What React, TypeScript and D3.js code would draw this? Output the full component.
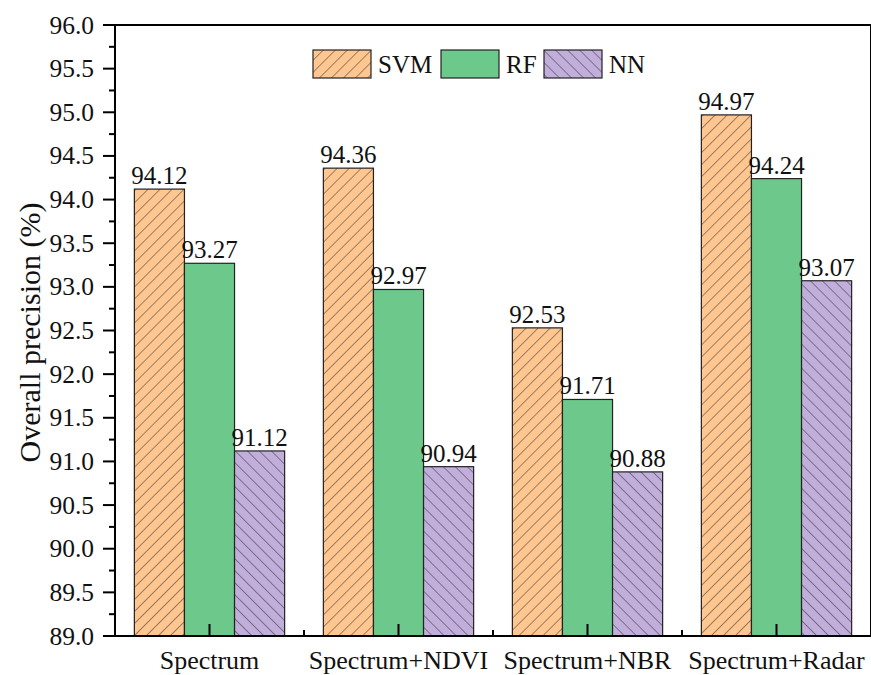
import React from "react";
import * as d3 from "d3";

const categories = ["Spectrum", "Spectrum+NDVI", "Spectrum+NBR", "Spectrum+Radar"];
const seriesNames = ["SVM", "RF", "NN"];
const svmValues = [94.12, 94.36, 92.53, 94.97];
const rfValues = [93.27, 92.97, 91.71, 94.24];
const nnValues = [91.12, 90.94, 90.88, 93.07];
const yTicks = [89.0, 89.5, 90.0, 90.5, 91.0, 91.5, 92.0, 92.5, 93.0, 93.5, 94.0, 94.5, 95.0, 95.5, 96.0];

const W = 871, H = 675;
const M = { left: 115, right: 871, top: 25, bottom: 636 };
const fills = ["#FFC690", "#6DC98B", "#C1AEDA"];
const patterns = ["url(#hatchF)", "#6DC98B", "url(#hatchB)"];
const FONT = "'Liberation Serif', 'Times New Roman', Times, serif";
const legendX = [313, 441, 544];

export default function App() {
  const series = [svmValues, rfValues, nnValues];
  const step = (M.right - M.left) / categories.length;
  const xc = d3.scaleBand<string>().domain(categories).range([M.left, M.right]).paddingInner(0).paddingOuter(0);
  const groupW = step * 0.795;
  const xs = d3.scaleBand<string>().domain(seriesNames).range([0, groupW]);
  const y = d3.scaleLinear().domain([89, 96]).range([M.bottom, M.top]);
  const minorY = d3.range(89.25, 96, 0.5);
  const ts = { fontFamily: FONT };

  return (
    <svg width={W} height={H} style={{ position: "absolute", left: 0, top: 0, fontFamily: FONT }}>
      <defs>
        <pattern id="hatchF" patternUnits="userSpaceOnUse" width="8.5" height="8.5" patternTransform="rotate(45)">
          <rect width="8.5" height="8.5" fill={fills[0]} />
          <line x1="0" y1="0" x2="0" y2="8.5" stroke="#333" strokeWidth="1" />
        </pattern>
        <pattern id="hatchB" patternUnits="userSpaceOnUse" width="8.5" height="8.5" patternTransform="rotate(-45)">
          <rect width="8.5" height="8.5" fill={fills[2]} />
          <line x1="0" y1="0" x2="0" y2="8.5" stroke="#333" strokeWidth="1" />
        </pattern>
      </defs>

      {categories.map((c, ci) => {
        const cx = (xc(c) as number) + step / 2;
        const gx = cx - groupW / 2;
        return (
          <g key={c}>
            {series.map((vals, si) => {
              const bx = gx + (xs(seriesNames[si]) as number);
              const bw = xs.bandwidth();
              const by = y(vals[ci]);
              return (
                <g key={si}>
                  <rect x={bx} y={by} width={bw} height={M.bottom - by} fill={patterns[si]} stroke="#222" strokeWidth={1.2} />
                  <text x={bx + bw / 2} y={by - 5} textAnchor="middle" fontSize={25} fill="#111" style={ts}>
                    {vals[ci].toFixed(2)}
                  </text>
                </g>
              );
            })}
          </g>
        );
      })}

      {/* frame */}
      <line x1={M.left} y1={M.top} x2={M.right} y2={M.top} stroke="#000" strokeWidth={2} />
      <line x1={M.right} y1={M.top} x2={M.right} y2={M.bottom} stroke="#000" strokeWidth={2} />
      <line x1={M.left} y1={M.top} x2={M.left} y2={M.bottom} stroke="#000" strokeWidth={2} />
      <line x1={M.left - 12} y1={M.bottom} x2={M.right} y2={M.bottom} stroke="#000" strokeWidth={2} />

      {/* y ticks */}
      {yTicks.map((t) => (
        <g key={t}>
          <line x1={M.left - 12} x2={M.left} y1={y(t)} y2={y(t)} stroke="#000" strokeWidth={2} />
          <text x={94} y={y(t) + 8.5} textAnchor="end" fontSize={25.5} fill="#111" style={ts}>{t.toFixed(1)}</text>
        </g>
      ))}
      {minorY.map((t) => (
        <line key={t} x1={M.left - 6} x2={M.left} y1={y(t)} y2={y(t)} stroke="#000" strokeWidth={2} />
      ))}

      {/* x ticks */}
      {categories.map((c, i) => {
        const cx = (xc(c) as number) + step / 2;
        return (
          <g key={c}>
            <line x1={cx} x2={cx} y1={M.bottom} y2={M.bottom - 12} stroke="#000" strokeWidth={2} />
            {i > 0 && (
              <line x1={xc(c) as number} x2={xc(c) as number} y1={M.bottom} y2={M.bottom - 6} stroke="#000" strokeWidth={2} />
            )}
            <text x={cx} y={669} textAnchor="middle" fontSize={26} fill="#111" style={ts}>{c}</text>
          </g>
        );
      })}

      {/* y title */}
      <text transform={`translate(40,${(M.top + M.bottom) / 2 + 2}) rotate(-90)`} textAnchor="middle" fontSize={30} fill="#111" style={ts}>
        Overall precision (%)
      </text>

      {/* legend */}
      {seriesNames.map((s, i) => {
        const lx = legendX[i];
        return (
          <g key={s}>
            <rect x={lx} y={50} width={58} height={28} fill={patterns[i]} stroke="#222" strokeWidth={1.2} />
            <text x={lx + 65} y={73} fontSize={25} fill="#111" style={ts}>{s}</text>
          </g>
        );
      })}
    </svg>
  );
}
